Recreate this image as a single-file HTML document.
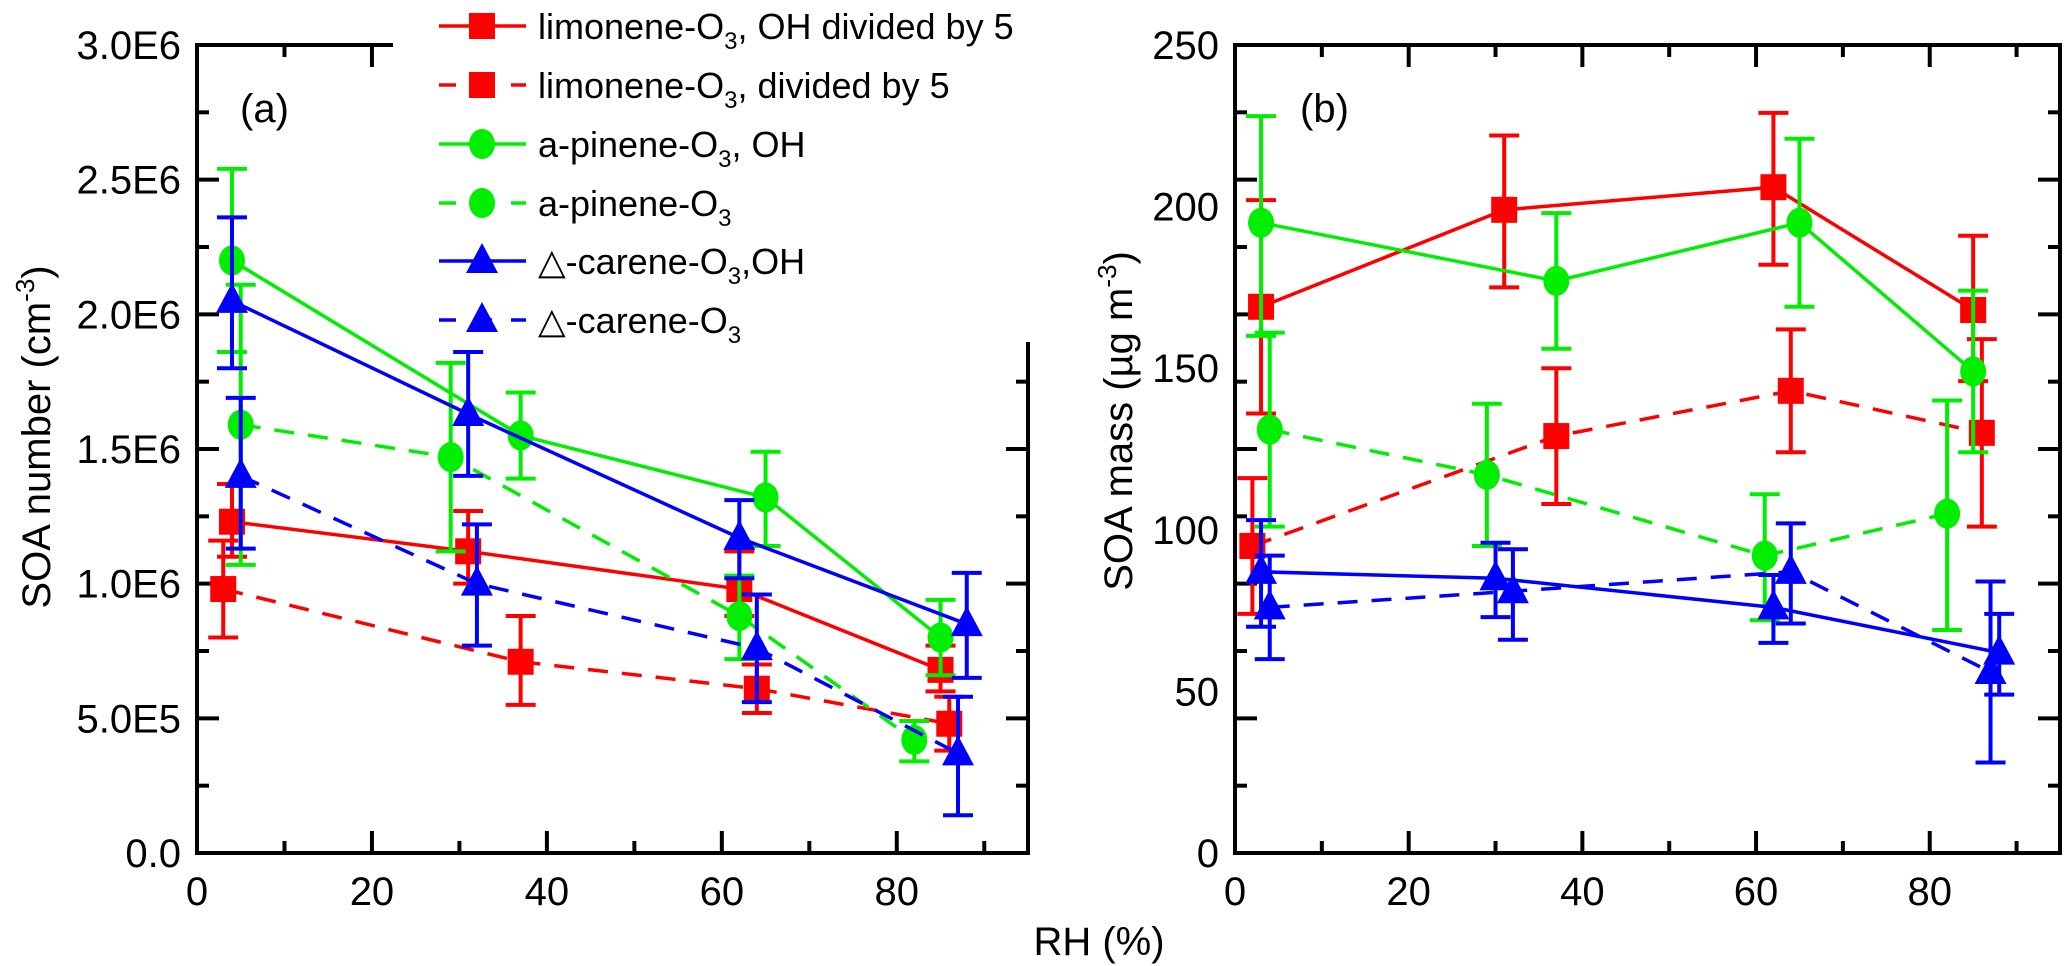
<!DOCTYPE html>
<html><head><meta charset="utf-8"><title>SOA vs RH</title>
<style>
html,body{margin:0;padding:0;background:#fff;}
svg{display:block;font-family:"Liberation Sans",Arial,sans-serif;}
</style></head>
<body>
<svg id="chart" width="2067" height="966" viewBox="0 0 2067 966" xmlns="http://www.w3.org/2000/svg"></svg>
<script>
// ---- data ----
const seriesNames = ["limonene-OH","limonene-O3","apinene-OH","apinene-O3","carene-OH","carene-O3"];
const seriesColors = ["#ff0000","#ff0000","#00ee00","#00ee00","#0000ff","#0000ff"];
const seriesDashed = [false,true,false,true,false,true];
const seriesMarkers = ["square","square","circle","circle","triangle","triangle"];
// panel (a): SOA number
const aRH = [[4,31,62,85],[3,37,64,86],[4,37,65,85],[5,29,62,82],[4,31,62,88],[5,32,64,87]];
const aVal = [[1.23e6,1.12e6,0.98e6,0.68e6],[0.98e6,0.71e6,0.61e6,0.48e6],[2.2e6,1.55e6,1.32e6,0.8e6],[1.59e6,1.47e6,0.88e6,0.42e6],[2.05e6,1.63e6,1.17e6,0.85e6],[1.4e6,1.0e6,0.76e6,0.37e6]];
const aHi = [[1.37e6,1.27e6,1.12e6,0.77e6],[1.16e6,0.88e6,0.70e6,0.58e6],[2.54e6,1.71e6,1.49e6,0.94e6],[2.11e6,1.82e6,1.03e6,0.49e6],[2.36e6,1.86e6,1.31e6,1.04e6],[1.69e6,1.22e6,0.96e6,0.58e6]];
const aLo = [[1.10e6,1.00e6,0.88e6,0.60e6],[0.80e6,0.55e6,0.52e6,0.38e6],[1.86e6,1.39e6,1.14e6,0.66e6],[1.07e6,1.12e6,0.72e6,0.34e6],[1.80e6,1.40e6,1.02e6,0.65e6],[1.13e6,0.77e6,0.56e6,0.14e6]];
// panel (b): SOA mass
const bRH = [[3,31,62,85],[2,37,64,86],[3,37,65,85],[4,29,61,82],[3,30,62,88],[4,32,64,87]];
const bVal = [[169,199,206,168],[95,129,143,130],[195,177,195,149],[131,117,92,105],[87,85,76,62],[76,81,87,56]];
const bHi = [[202,222,229,191],[116,150,162,159],[228,198,221,174],[161,139,111,140],[103,96,86,74],[92,94,102,84]];
const bLo = [[136,175,182,146],[74,108,124,101],[160,156,169,124],[101,95,72,69],[70,73,65,49],[60,66,71,28]];
const aYTicks = [0,5e5,1e6,1.5e6,2e6,2.5e6,3e6];
const aYLabels = ["0.0","5.0E5","1.0E6","1.5E6","2.0E6","2.5E6","3.0E6"];
const bYTicks = [0,50,100,150,200,250];
const xTicks = [0,20,40,60,80];

const NS="http://www.w3.org/2000/svg";
const svg=document.getElementById('chart');
function mk(tag,attrs,parent){const e=document.createElementNS(NS,tag);for(const k in attrs)e.setAttribute(k,attrs[k]);(parent||svg).appendChild(e);return e;}

function panel(cfg){
  const g=mk('g',{});
  
  
  const L=cfg.left,R=cfg.right,T=cfg.top,B=cfg.bottom;
  const sx=v=>L+(v-0)/(cfg.xmax)*(R-L);
  const sy=v=>B-v/cfg.ymax*(B-T);
  const ax=mk('g',{stroke:'#000','stroke-width':4,fill:'none'},g);
  
  
  mk('line',{x1:L,y1:T-2,x2:L,y2:B+2},ax);
  mk('line',{x1:L-2,y1:B,x2:R+2,y2:B},ax);
  mk('line',{x1:L-2,y1:T,x2:cfg.topEnd,y2:T},ax);
  mk('line',{x1:R,y1:cfg.rightStart,x2:R,y2:B+2},ax);
  for(let v=0;v<=cfg.xmax;v+=10){
    const len=(v%20===0)?22:12;const x=sx(v);
    mk('line',{x1:x,y1:B,x2:x,y2:B-len},ax);
    if(x<cfg.topEnd-3) mk('line',{x1:x,y1:T,x2:x,y2:T+len},ax);
  }
  const step=cfg.ymax/12;
  for(let i=0;i<=12;i++){
    const v=i*step;const y=sy(v);const len=(i%2===0)?22:12;
    mk('line',{x1:L,y1:y,x2:L+len,y2:y},ax);
    if(y>=cfg.rightStart) mk('line',{x1:R,y1:y,x2:R-len,y2:y},ax);
  }
  xTicks.forEach(v=>{
    const t=mk('text',{x:sx(v),y:905,'font-size':40,'text-anchor':'middle',fill:'#000'},g);
    
    
    t.textContent=v;
  });
  cfg.yTicks.forEach((v,i)=>{
    const t=mk('text',{x:L-16,y:sy(v)+14,'font-size':40,'text-anchor':'end',fill:'#000'},g);
    
    
    t.textContent=cfg.yLabels[i];
  });
  const pl=mk('text',{x:cfg.labX,y:122,'font-size':40,fill:'#000'},g);
  
  
  pl.textContent=cfg.label;
  for(let s=0;s<seriesNames.length;s++){
    const sg=mk('g',{},g);
    
    
    const c=seriesColors[s];
    const xs=cfg.xs[s],ys=cfg.ys[s],hi=cfg.hi[s],lo=cfg.lo[s];
    for(let i=0;i<xs.length;i++){
      const x=sx(xs[i]);
      const eb=mk('path',{d:`M${x},${sy(hi[i])}V${sy(lo[i])}M${x-15},${sy(hi[i])}h30M${x-15},${sy(lo[i])}h30`,stroke:c,'stroke-width':4,fill:'none'},sg);
      
      
    }
    let d='';
    for(let i=0;i<xs.length;i++) d+=(i?'L':'M')+sx(xs[i])+','+sy(ys[i]);
    const ln=mk('path',{d:d,stroke:c,'stroke-width':3.5,fill:'none'},sg);
    if(seriesDashed[s]) ln.setAttribute('stroke-dasharray','20 14');
    
    
    for(let i=0;i<xs.length;i++){
      const m=marker(seriesMarkers[s],sx(xs[i]),sy(ys[i]),c,sg);
      
      
    }
  }
}
function marker(type,x,y,c,parent){
  if(type==='square') return mk('rect',{x:x-13,y:y-13,width:26,height:26,fill:c},parent);
  if(type==='circle') return mk('ellipse',{cx:x,cy:y,rx:13,ry:15,fill:c},parent);
  return mk('polygon',{points:`${x},${y-18} ${x+16},${y+12} ${x-16},${y+12}`,fill:c},parent);
}
panel({name:'panel-a',left:197,right:1028,top:45,bottom:853,xmax:95,ymax:3e6,topEnd:393,rightStart:342,
  yTicks:aYTicks,yLabels:aYLabels,label:'(a)',labX:240,xs:aRH,ys:aVal,hi:aHi,lo:aLo});
panel({name:'panel-b',left:1235,right:2060,top:45,bottom:853,xmax:95,ymax:250,topEnd:2062,rightStart:45,
  yTicks:bYTicks,yLabels:bYTicks.map(String),label:'(b)',labX:1300,xs:bRH,ys:bVal,hi:bHi,lo:bLo});

const legendLabels=[['limonene-O','3',', OH divided by 5'],['limonene-O','3',', divided by 5'],['a-pinene-O','3',', OH'],['a-pinene-O','3',''],['\u25B3-carene-O','3',',OH'],['\u25B3-carene-O','3','']];
const legY=[26,85,144,203,261,320];
const lg=mk('g',{});


for(let s=0;s<6;s++){
  const e=mk('g',{},lg);
  
  
  const y=legY[s];
  const l=mk('line',{x1:439,y1:y,x2:526,y2:y,stroke:seriesColors[s],'stroke-width':3.5},e);
  if(seriesDashed[s]) l.setAttribute('stroke-dasharray','17 19');
  marker(seriesMarkers[s],482,y,seriesColors[s],e);
  const t=mk('text',{x:538,y:y+13,'font-size':36,fill:'#000'},e);
  const a=mk('tspan',{},t);a.textContent=legendLabels[s][0];
  const b=mk('tspan',{'font-size':24,dy:10},t);b.textContent=legendLabels[s][1];
  const c=mk('tspan',{dy:-10},t);c.textContent=legendLabels[s][2];
}
const ya=mk('text',{transform:'translate(50,437) rotate(-90)','font-size':40,'text-anchor':'middle',fill:'#000'});


ya.innerHTML='SOA number (cm<tspan font-size="26" dy="-16">-3</tspan><tspan dy="16">)</tspan>';
const yb=mk('text',{transform:'translate(1132,421) rotate(-90)','font-size':40,'text-anchor':'middle',fill:'#000'});


yb.innerHTML='SOA mass (\u00B5g m<tspan font-size="26" dy="-16">-3</tspan><tspan dy="16">)</tspan>';
const xt=mk('text',{x:1099,y:955,'font-size':40,'text-anchor':'middle',fill:'#000'});


xt.textContent='RH (%)';
</script>
</body></html>
